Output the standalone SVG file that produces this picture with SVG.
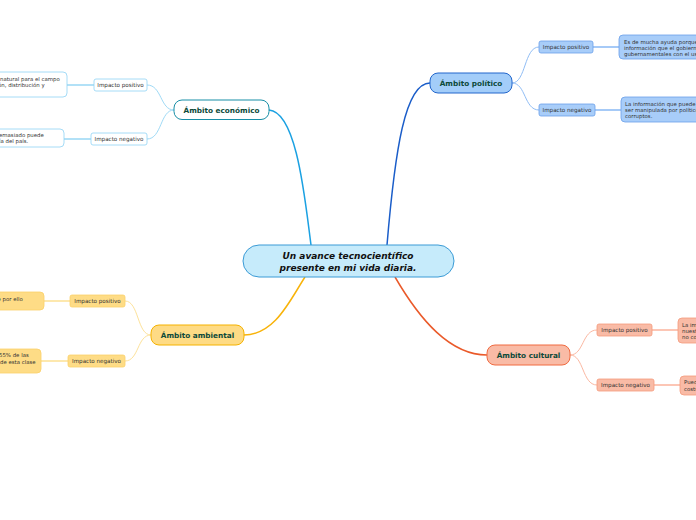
<svg xmlns="http://www.w3.org/2000/svg" width="696" height="520" viewBox="0 0 696 520">
<style>
text{font-family:"DejaVu Sans","Verdana",sans-serif}
.main{font-size:7.3px;font-weight:bold;fill:#0d4a3a;text-anchor:middle}
.sub{font-size:5.6px;fill:#333;text-anchor:middle}
.leaf{font-size:5.4px;fill:#333}
.ctr{font-size:9px;font-weight:bold;font-style:italic;fill:#111;text-anchor:middle}
</style>
<rect width="696" height="520" fill="#fff"/>
<g id="connectors" fill="none">
<path d="M311 245 C305 200 297 112 269 110" stroke="#1ba1e2" stroke-width="1.5"/>
<path d="M387 245 C395 150 405 83 430 83" stroke="#1a5dc9" stroke-width="1.5"/>
<path d="M305 277 C290 300 275 335 244 335" stroke="#f8b30a" stroke-width="1.5"/>
<path d="M395 277 C420 320 450 355 487 355" stroke="#ea5a2a" stroke-width="1.5"/>
<g stroke="#9fdaf6" stroke-width="1">
<path d="M174 110 C160 110 162 85 147 85"/>
<path d="M174 110 C160 110 162 139 147 139"/>
<path d="M67 85 H94" stroke-width="1.6"/>
<path d="M64 139 H91" stroke-width="1.6"/>
</g>
<g stroke="#90bdf5" stroke-width="1">
<path d="M512 83 C526 83 524 47 539 47"/>
<path d="M512 83 C526 83 524 110 539 110"/>
<path d="M593 47 H619" stroke-width="1.6"/>
<path d="M595 110 H621" stroke-width="1.6"/>
</g>
<g stroke="#fde29a" stroke-width="1">
<path d="M151 335 C137 335 139 301 125 301"/>
<path d="M151 335 C137 335 139 361 125 361"/>
<path d="M44 301 H70" stroke-width="1.6"/>
<path d="M41 361 H68" stroke-width="1.6"/>
</g>
<g stroke="#fbb8a2" stroke-width="1">
<path d="M570 355 C584 355 582 330 597 330"/>
<path d="M570 355 C584 355 582 385 597 385"/>
<path d="M652 330 H678" stroke-width="1.6"/>
<path d="M654 385 H680" stroke-width="1.6"/>
</g>
</g>
<g id="central">
<rect x="243" y="245" width="211" height="32" rx="16" fill="#c6ebfb" stroke="#3b9bd6" stroke-width="1"/>
<text class="ctr" x="348" y="259">Un avance tecnocientífico</text>
<text class="ctr" x="348" y="270.5">presente en mi vida diaria.</text>
</g>
<g id="economico">
<rect x="174" y="100" width="95" height="19.5" rx="8" fill="#fff" stroke="#178ea6" stroke-width="1"/>
<text class="main" x="221.5" y="112.8">Ámbito económico</text>
</g>
<g id="eco-pos">
<rect x="94" y="79" width="53" height="12" rx="2" fill="#fff" stroke="#8fd3f5" stroke-width="0.8"/>
<text class="sub" x="120.5" y="87">Impacto positivo</text>
</g>
<g id="eco-neg">
<rect x="91" y="133" width="56" height="12" rx="2" fill="#fff" stroke="#8fd3f5" stroke-width="0.8"/>
<text class="sub" x="119" y="141">Impacto negativo</text>
</g>
<g id="eco-pos-leaf">
<rect x="-60" y="72" width="127" height="25" rx="4" fill="#fff" stroke="#8fd3f5" stroke-width="0.8"/>
<text class="leaf" x="0" y="80.5">natural para el campo</text>
<text class="leaf" x="-2" y="87">ón, distribución y</text>
</g>
<g id="eco-neg-leaf">
<rect x="-60" y="129" width="124" height="18" rx="4" fill="#fff" stroke="#8fd3f5" stroke-width="0.8"/>
<text class="leaf" x="-1" y="136.5">emasiado puede</text>
<text class="leaf" x="-1" y="143">ía del país.</text>
</g>
<g id="politico">
<rect x="430" y="73" width="82" height="20" rx="8" fill="#a3cdf9" stroke="#2266cc" stroke-width="1"/>
<text class="main" x="471" y="86">Ámbito político</text>
</g>
<g id="pol-pos">
<rect x="539" y="41" width="54" height="12" rx="2" fill="#a8cdf9" stroke="#6aa0ea" stroke-width="0.8"/>
<text class="sub" x="566" y="49">Impacto positivo</text>
</g>
<g id="pol-neg">
<rect x="539" y="104" width="56" height="12" rx="2" fill="#a8cdf9" stroke="#6aa0ea" stroke-width="0.8"/>
<text class="sub" x="567" y="112">Impacto negativo</text>
</g>
<g id="pol-pos-leaf">
<rect x="619" y="35" width="120" height="24" rx="4" fill="#a8cdf9" stroke="#6aa0ea" stroke-width="0.8"/>
<text class="leaf" x="624" y="43.5">Es de mucha ayuda porque</text>
<text class="leaf" x="624" y="49.5">información que el gobierno</text>
<text class="leaf" x="624" y="55.5">gubernamentales con el uso</text>
</g>
<g id="pol-neg-leaf">
<rect x="621" y="97" width="120" height="25" rx="4" fill="#a8cdf9" stroke="#6aa0ea" stroke-width="0.8"/>
<text class="leaf" x="625" y="105.5">La información que puede</text>
<text class="leaf" x="625" y="111.5">ser manipulada por políticos</text>
<text class="leaf" x="625" y="118">corruptos.</text>
</g>
<g id="ambiental">
<rect x="151" y="325" width="93" height="20" rx="8" fill="#fedb85" stroke="#f5b200" stroke-width="1"/>
<text class="main" x="197.5" y="338">Ámbito ambiental</text>
</g>
<g id="amb-pos">
<rect x="70" y="295" width="55" height="12" rx="2" fill="#fedc86" stroke="#fbd06a" stroke-width="0.8"/>
<text class="sub" x="97.5" y="303">Impacto positivo</text>
</g>
<g id="amb-neg">
<rect x="68" y="355" width="57" height="12" rx="2" fill="#fedc86" stroke="#fbd06a" stroke-width="0.8"/>
<text class="sub" x="96.5" y="363">Impacto negativo</text>
</g>
<g id="amb-pos-leaf">
<rect x="-60" y="292" width="104" height="18" rx="4" fill="#fedc86" stroke="#fbd06a" stroke-width="0.8"/>
<text class="leaf" x="-2.5" y="300.5">e por ello</text>
</g>
<g id="amb-neg-leaf">
<rect x="-60" y="349" width="101" height="24" rx="4" fill="#fedc86" stroke="#fbd06a" stroke-width="0.8"/>
<text class="leaf" x="-1" y="357">55% de las</text>
<text class="leaf" x="0" y="363.5">de esta clase</text>
</g>
<g id="cultural">
<rect x="487" y="345" width="83" height="20" rx="8" fill="#f9bba6" stroke="#f06a40" stroke-width="1"/>
<text class="main" x="528.5" y="358">Ámbito cultural</text>
</g>
<g id="cul-pos">
<rect x="597" y="324" width="55" height="12" rx="2" fill="#f9bba6" stroke="#f59a7c" stroke-width="0.8"/>
<text class="sub" x="624.5" y="332">Impacto positivo</text>
</g>
<g id="cul-neg">
<rect x="597" y="379" width="57" height="12" rx="2" fill="#f9bba6" stroke="#f59a7c" stroke-width="0.8"/>
<text class="sub" x="625.5" y="387">Impacto negativo</text>
</g>
<g id="cul-pos-leaf">
<rect x="678" y="318" width="80" height="25" rx="4" fill="#f9bba6" stroke="#f59a7c" stroke-width="0.8"/>
<text class="leaf" x="682" y="326.5">La importancia</text>
<text class="leaf" x="682" y="332.5">nuestra</text>
<text class="leaf" x="682" y="339">no conocer</text>
</g>
<g id="cul-neg-leaf">
<rect x="680" y="376" width="80" height="19" rx="4" fill="#f9bba6" stroke="#f59a7c" stroke-width="0.8"/>
<text class="leaf" x="684" y="384">Puede</text>
<text class="leaf" x="684" y="390.5">costumbres</text>
</g>
</svg>
